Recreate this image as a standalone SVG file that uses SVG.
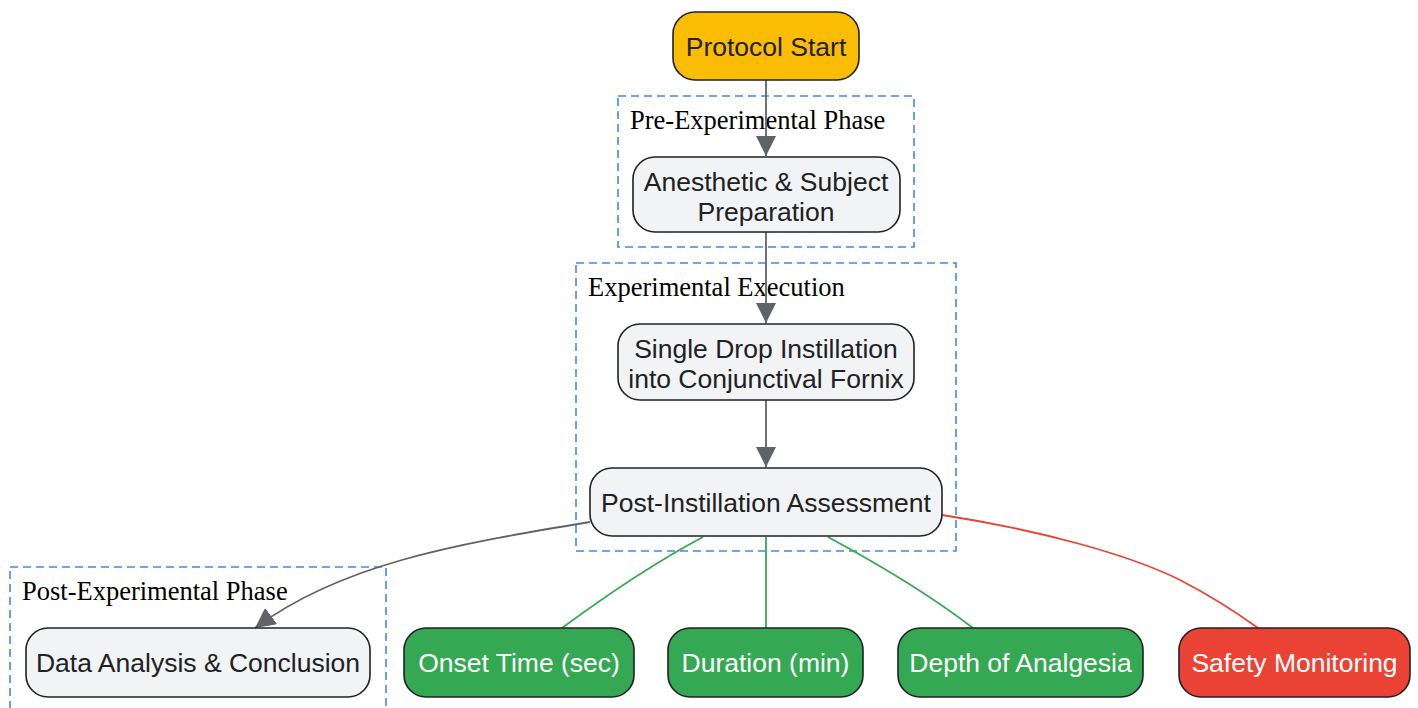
<svg xmlns="http://www.w3.org/2000/svg" width="1418" height="708" viewBox="0 0 1418 708">
<defs>
<style>
.node rect{stroke:#202124;stroke-width:1.6}
.gray rect{fill:#f1f3f4}
.t{font-family:"Liberation Sans",Arial,sans-serif;font-size:26.5px;text-anchor:middle;fill:#202124}
.w{fill:#ffffff}
.cl{fill:none;stroke:#4285f4;stroke-width:1.6;stroke-dasharray:8,5}
.cll{font-family:"Liberation Serif","Times New Roman",serif;font-size:26.5px;fill:#000}
.e{fill:none;stroke-width:1.8}
</style>
<marker id="ahg" viewBox="0 0 10 10" refX="10" refY="5" markerWidth="20" markerHeight="20" markerUnits="userSpaceOnUse" orient="auto">
<path d="M0,0 L10,5 L0,10 z" fill="#5f6368"/>
</marker>
</defs>
<rect width="1418" height="708" fill="#ffffff"/>
<g id="clusters">
<g id="cluster-pre"><rect class="cl" x="618" y="96" width="296" height="151"/><text class="cll" x="630" y="129">Pre-Experimental Phase</text></g>
<g id="cluster-exec"><rect class="cl" x="576" y="263" width="380" height="288"/><text class="cll" x="588" y="296">Experimental Execution</text></g>
<g id="cluster-post"><rect class="cl" x="10" y="567" width="376" height="150"/><text class="cll" x="22" y="600">Post-Experimental Phase</text></g>
</g>
<g id="connectors">
<path class="e" stroke="#5f6368" d="M766,80 L766,156" marker-end="url(#ahg)"/>
<path class="e" stroke="#5f6368" d="M766,232 L766,323" marker-end="url(#ahg)"/>
<path class="e" stroke="#5f6368" d="M766,400 L766,467" marker-end="url(#ahg)"/>
<path class="e" stroke="#5f6368" d="M590,522 C450,545 340,565 255,628" marker-end="url(#ahg)"/>
<path class="e" stroke="#34a853" d="M703,537 C650,565 600,600 562,628"/>
<path class="e" stroke="#34a853" d="M766,537 L766,628"/>
<path class="e" stroke="#34a853" d="M828,537 C880,565 930,595 973,628"/>
<path class="e" stroke="#ea4335" d="M942,515 C1040,530 1130,555 1180,580 C1215,598 1240,615 1258,628"/>
</g>
<g id="n-start" class="node"><rect x="673" y="12" width="186" height="68" rx="22" fill="#fbbc04"/><text class="t" x="766" y="56">Protocol Start</text></g>
<g id="n-prep" class="node gray"><rect x="633" y="157" width="267" height="75" rx="22"/><text class="t" x="766" y="191">Anesthetic &amp; Subject</text><text class="t" x="766" y="221">Preparation</text></g>
<g id="n-drop" class="node gray"><rect x="618" y="324" width="296" height="76" rx="22"/><text class="t" x="766" y="358">Single Drop Instillation</text><text class="t" x="766" y="388">into Conjunctival Fornix</text></g>
<g id="n-assess" class="node gray"><rect x="590" y="468" width="352" height="68" rx="22"/><text class="t" x="766" y="512">Post-Instillation Assessment</text></g>
<g id="n-data" class="node gray"><rect x="26" y="628" width="344" height="69" rx="22"/><text class="t" x="198" y="672">Data Analysis &amp; Conclusion</text></g>
<g id="n-onset" class="node"><rect x="404" y="628" width="230" height="69" rx="22" fill="#34a853"/><text class="t w" x="519" y="672">Onset Time (sec)</text></g>
<g id="n-duration" class="node"><rect x="668" y="628" width="195" height="69" rx="22" fill="#34a853"/><text class="t w" x="765.5" y="672">Duration (min)</text></g>
<g id="n-depth" class="node"><rect x="898" y="628" width="245" height="69" rx="22" fill="#34a853"/><text class="t w" x="1020.5" y="672">Depth of Analgesia</text></g>
<g id="n-safety" class="node"><rect x="1179" y="628" width="231" height="69" rx="22" fill="#ea4335"/><text class="t w" x="1294.5" y="672">Safety Monitoring</text></g>
</svg>
